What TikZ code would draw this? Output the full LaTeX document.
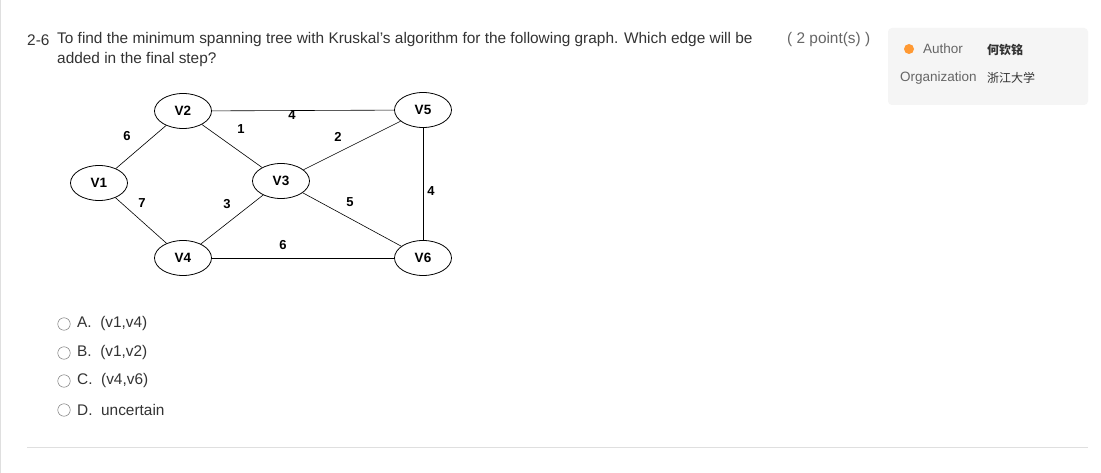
\documentclass[tikz,border=0pt]{standalone}
\usepackage{fontspec}
\setmainfont{Liberation Sans}
\newfontfamily\cjk{Noto Sans CJK SC}
\usetikzlibrary{shapes.geometric}
\definecolor{txt}{HTML}{333333}
\definecolor{graytxt}{HTML}{666666}
\begin{document}
\begin{tikzpicture}[x=1pt,y=-1pt,
  vert/.style={ellipse,draw,thick,minimum width=57pt,minimum height=35pt,inner sep=0pt,font=\fontsize{13.5}{14}\selectfont\bfseries},
  ed/.style={semithick},
  wl/.style={font=\fontsize{13}{14}\selectfont\bfseries},
  body/.style={text=txt,font=\fontsize{15.4}{17}\selectfont,anchor=west,inner sep=0pt},
  opt/.style={circle,draw=graytxt,minimum size=12.5pt,inner sep=0pt}]
\useasboundingbox (0,0) rectangle (1101,473);
\fill[white] (0,0) rectangle (1101,473);
\draw[gray!25] (0.5,0) -- (0.5,473);
% question
\node[body] (num) at (27,40) {2-6};
\node[body] (q1) at (57,40) {To find the minimum spanning tree with Kruskal's algorithm for the following graph. Which edge will be};
\node[body] (q2) at (57,60) {added in the final step?};
\node[body,text=graytxt] (pts) at (787,40) {( 2 point(s) )};
% author box
\fill[gray!8,rounded corners=4pt] (888,28) rectangle (1088,105);
\node[circle,fill=orange!80,minimum size=10pt,inner sep=0pt] (medal) at (909,49) {};
\node[body,text=graytxt,font=\fontsize{13.5}{15}\selectfont] (au) at (923,49) {Author};
\node[body,font=\fontsize{12}{14}\selectfont\cjk\bfseries] (aun) at (987,50) {何钦铭};
\node[body,text=graytxt,font=\fontsize{13.5}{15}\selectfont] (org) at (900,78) {Organization};
\node[body,font=\fontsize{12}{14}\selectfont\cjk] (orgn) at (987,78) {浙江大学};
% graph
\node[vert] (v1) at (99,183) {V1};
\node[vert] (v2) at (183,111) {V2};
\node[vert] (v3) at (281,181) {V3};
\node[vert] (v4) at (183,258) {V4};
\node[vert] (v5) at (423,110) {V5};
\node[vert] (v6) at (423,258) {V6};
\draw[ed] (v1) -- (v2);
\draw[ed] (v1) -- (v4);
\draw[ed] (v2) -- (v3);
\draw[ed] (v2) -- (v5);
\draw[ed] (v3) -- (v5);
\draw[ed] (v3) -- (v4);
\draw[ed] (v3) -- (v6);
\draw[ed] (v4) -- (v6);
\draw[ed] (v5) -- (v6);
\node[wl] (w12) at (127,136) {6};
\node[wl] (w14) at (142,203) {7};
\node[wl] (w23) at (241,129) {1};
\node[wl] (w25) at (292,115) {4};
\node[wl] (w35) at (338,137) {2};
\node[wl] (w34) at (227,204) {3};
\node[wl] (w36) at (350,202) {5};
\node[wl] (w46) at (283,245) {6};
\node[wl] (w56) at (431,191) {4};
% options
\node[opt] (oa) at (64,324) {};
\node[body] (ta) at (77,324) {A.\ \ (v1,v4)};
\node[opt] (ob) at (64,353) {};
\node[body] (tb) at (77,353) {B.\ \ (v1,v2)};
\node[opt] (oc) at (64,381) {};
\node[body] (tc) at (77,381) {C.\ \ (v4,v6)};
\node[opt] (od) at (64,410) {};
\node[body] (td) at (77,410) {D.\ \ uncertain};
\draw[gray!25] (27,447) -- (1088,447);
\end{tikzpicture}
\end{document}
